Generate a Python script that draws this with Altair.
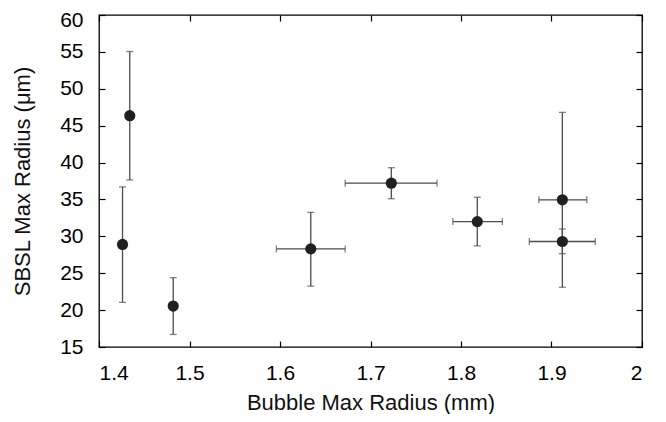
import altair as alt
import pandas as pd

FONT = "Liberation Sans"

x_val = [1.426, 1.434, 1.482, 1.634, 1.723, 1.818, 1.912, 1.912]
y_val = [28.9, 46.35, 20.55, 28.3, 37.2, 32.0, 34.95, 29.3]
y_lo = [21.05, 37.65, 16.7, 23.25, 35.1, 28.7, 23.1, 27.65]
y_hi = [36.7, 55.05, 24.4, 33.25, 39.3, 35.3, 46.8, 31.0]
x_lo = [None, None, None, 1.596, 1.672, 1.791, 1.886, 1.8755]
x_hi = [None, None, None, 1.672, 1.7735, 1.8457, 1.939, 1.9484]

x_ticks = [1.4, 1.5, 1.6, 1.7, 1.8, 1.9, 2.0]
y_ticks = [15, 20, 25, 30, 35, 40, 45, 50, 55, 60]

df = pd.DataFrame({"x": x_val, "y": y_val, "ylo": y_lo, "yhi": y_hi,
                   "xlo": x_lo, "xhi": x_hi})
dfx = df.dropna(subset=["xlo"])

XS = alt.Scale(domain=[1.4, 2.0], nice=False, zero=False)
YS = alt.Scale(domain=[15, 60], nice=False, zero=False)

common = dict(labelFont=FONT, labelFontSize=21, titleFont=FONT, titleFontSize=22,
              titleFontWeight="normal", labelColor="black", titleColor="#111111",
              tickColor="black", tickWidth=1.2, domain=False, grid=False,
              tickSize=6, offset=-6)

ax_bottom = alt.Axis(orient="bottom", values=x_ticks, format="~g",
                     title="Bubble Max Radius (mm)", labelPadding=15,
                     titlePadding=9, **common)
ax_left = alt.Axis(orient="left", values=y_ticks, format="d",
                   title="SBSL Max Radius (μm)", labelPadding=16,
                   labelOffset=alt.ConditionalAxisNumber(
                       condition={"test": "datum.value == 60", "value": 5}, value=0),
                   titlePadding=25, **common)
ax_top = alt.Axis(orient="top", values=x_ticks, labels=False, title=None, **common)
ax_right = alt.Axis(orient="right", values=y_ticks, labels=False, title=None, **common)

BAR = "#4d4d4d"
SW = 1.3

vbars = alt.Chart(df).mark_rule(color=BAR, strokeWidth=SW).encode(
    x=alt.X("x:Q", scale=XS, axis=ax_bottom),
    y=alt.Y("ylo:Q", scale=YS, axis=ax_left),
    y2="yhi:Q",
)
vcap_lo = alt.Chart(df).mark_tick(color=BAR, orient="horizontal", size=7, thickness=SW).encode(
    x=alt.X("x:Q", scale=XS, axis=None), y=alt.Y("ylo:Q", scale=YS, axis=None))
vcap_hi = alt.Chart(df).mark_tick(color=BAR, orient="horizontal", size=7, thickness=SW).encode(
    x=alt.X("x:Q", scale=XS, axis=None), y=alt.Y("yhi:Q", scale=YS, axis=None))

hbars = alt.Chart(dfx).mark_rule(color=BAR, strokeWidth=SW).encode(
    x=alt.X("xlo:Q", scale=XS, axis=None), x2="xhi:Q",
    y=alt.Y("y:Q", scale=YS, axis=None),
)
hcap_lo = alt.Chart(dfx).mark_tick(color=BAR, orient="vertical", size=7, thickness=SW).encode(
    x=alt.X("xlo:Q", scale=XS, axis=None), y=alt.Y("y:Q", scale=YS, axis=None))
hcap_hi = alt.Chart(dfx).mark_tick(color=BAR, orient="vertical", size=7, thickness=SW).encode(
    x=alt.X("xhi:Q", scale=XS, axis=None), y=alt.Y("y:Q", scale=YS, axis=None))

points = alt.Chart(df).mark_circle(size=125, color="#231f20", opacity=1).encode(
    x=alt.X("x:Q", scale=XS, axis=ax_top),
    y=alt.Y("y:Q", scale=YS, axis=ax_right),
)

chart = alt.layer(vbars, vcap_lo, vcap_hi, hbars, hcap_lo, hcap_hi, points).resolve_axis(
    x="independent", y="independent"
).properties(
    width=543, height=332,
    autosize=alt.AutoSizeParams(type="none"),
    padding={"left": 91, "top": 7, "right": 16, "bottom": 67},
).configure_view(stroke="black", strokeWidth=1.3)

chart.save("out.html", embed_options={"renderer": "svg", "actions": False})
